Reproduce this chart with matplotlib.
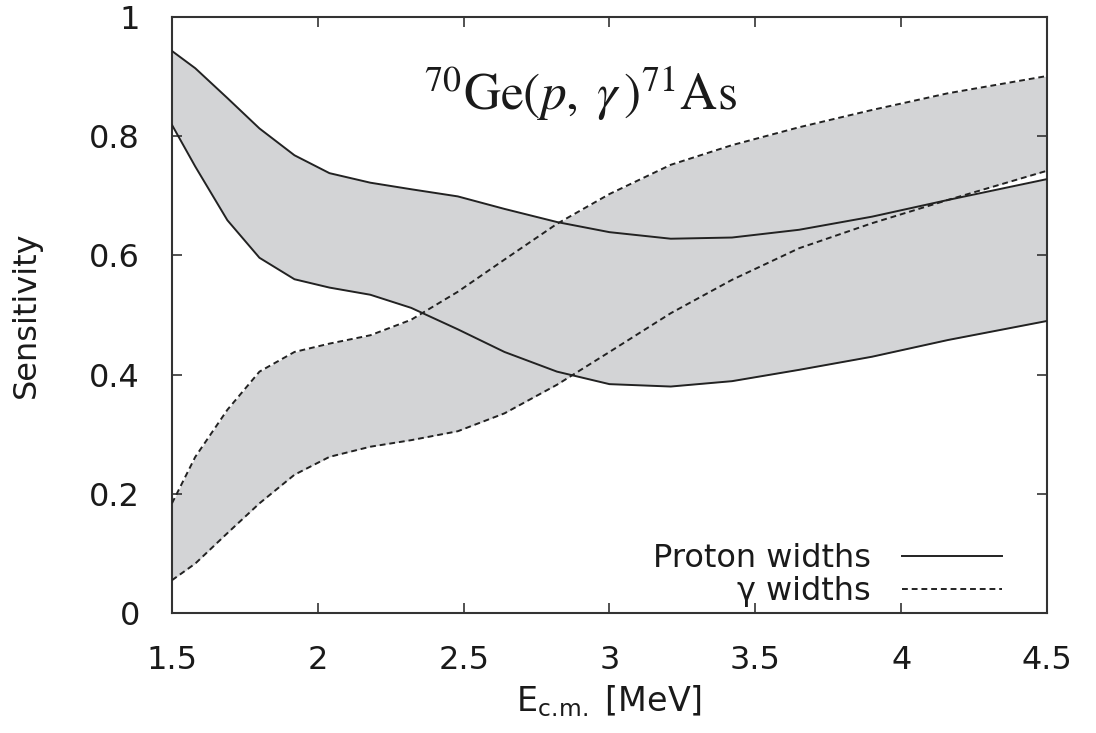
import matplotlib
matplotlib.use("Agg")
import matplotlib.pyplot as plt
from matplotlib.ticker import FuncFormatter

# ---- data ----
energy = [1.5, 1.58, 1.69, 1.8, 1.92, 2.04, 2.18, 2.32, 2.48, 2.64, 2.82,
          3.0, 3.21, 3.42, 3.65, 3.9, 4.16, 4.5]
proton_upper = [0.943, 0.914, 0.864, 0.813, 0.768, 0.738, 0.722, 0.711, 0.699,
                0.678, 0.656, 0.639, 0.628, 0.630, 0.643, 0.665, 0.693, 0.728]
proton_lower = [0.819, 0.749, 0.659, 0.596, 0.560, 0.546, 0.534, 0.512, 0.476,
                0.438, 0.405, 0.384, 0.380, 0.389, 0.408, 0.430, 0.458, 0.490]
gamma_upper = [0.184, 0.262, 0.341, 0.405, 0.438, 0.452, 0.466, 0.492, 0.539,
               0.593, 0.653, 0.703, 0.752, 0.785, 0.815, 0.844, 0.872, 0.901]
gamma_lower = [0.055, 0.083, 0.134, 0.184, 0.232, 0.262, 0.279, 0.290, 0.305,
               0.335, 0.383, 0.438, 0.503, 0.559, 0.612, 0.654, 0.693, 0.742]

x_ticks = [1.5, 2.0, 2.5, 3.0, 3.5, 4.0, 4.5]
y_ticks = [0.0, 0.2, 0.4, 0.6, 0.8, 1.0]
labels = ["Proton widths", "γ widths"]
title_text = r"$^{70}\mathrm{Ge}(p,\;\gamma\,)^{71}\mathrm{As}$"

# ---- style ----
plt.rcParams["font.family"] = ["DejaVu Sans"]
FS = 23
fill_color = "#d3d4d6"
line_color = "#222222"
axis_color = "#333333"
text_color = "#1a1a1a"

fig = plt.figure(figsize=(10.96, 7.33), dpi=100)
ax = fig.add_axes([0.1569, 0.1637, 0.7984, 0.8131])

ax.fill_between(energy, proton_lower, proton_upper, color=fill_color, lw=0, zorder=1)
ax.fill_between(energy, gamma_lower, gamma_upper, color=fill_color, lw=0, zorder=1)

lw = 1.4
p1, = ax.plot(energy, proton_upper, color=line_color, lw=lw, zorder=3, label=labels[0])
ax.plot(energy, proton_lower, color=line_color, lw=lw, zorder=3)
g1, = ax.plot(energy, gamma_upper, color=line_color, lw=lw, ls=(0, (3, 2)), zorder=3,
              label=labels[1])
ax.plot(energy, gamma_lower, color=line_color, lw=lw, ls=(0, (3, 2)), zorder=3)

ax.set_xlim(1.5, 4.5)
ax.set_ylim(0, 1)
ax.set_xticks(x_ticks)
ax.set_yticks(y_ticks)
fmt = FuncFormatter(lambda v, p: f"{v:g}")
ax.xaxis.set_major_formatter(fmt)
ax.yaxis.set_major_formatter(fmt)

ax.tick_params(axis="both", which="both", direction="in", top=True, right=True,
               length=7, width=1.2, color=axis_color, labelsize=FS,
               labelcolor=text_color)
ax.tick_params(axis="x", pad=23)
ax.tick_params(axis="y", pad=23)
for s in ax.spines.values():
    s.set_color(axis_color)
    s.set_linewidth(1.5)

ax.set_xlabel(r"E$_{\mathrm{c.\!m.}}$ [MeV]", fontsize=24, color=text_color, labelpad=5)
ax.set_ylabel("Sensitivity", fontsize=FS, color=text_color, labelpad=34)

ax.text(2.9, 0.872, title_text, fontsize=37, ha="center", va="center",
        math_fontfamily="stix", color=text_color)

leg = ax.legend(handles=[p1, g1], loc="lower right", bbox_to_anchor=(0.9486, 0.01),
                frameon=False, markerfirst=False, fontsize=FS, handlelength=3.13,
                handletextpad=0.97, labelspacing=0.05, borderpad=0, borderaxespad=0)
for t in leg.get_texts():
    t.set_color(text_color)

fig.savefig("out.png", dpi=100)
